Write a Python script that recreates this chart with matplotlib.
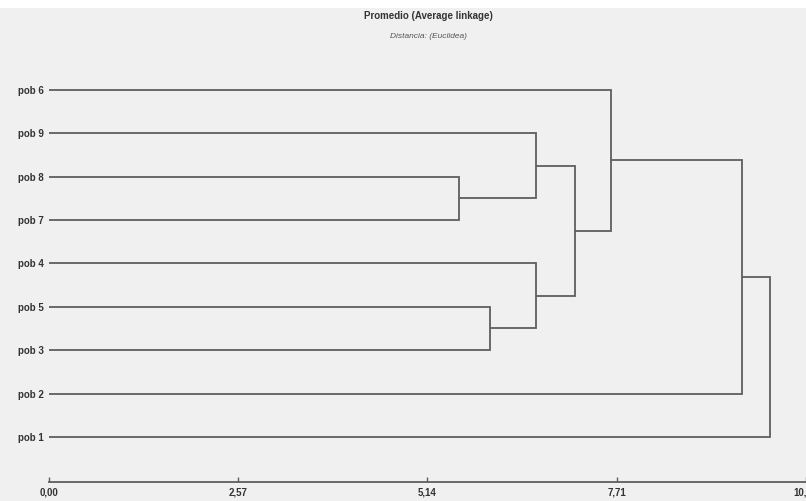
import matplotlib
matplotlib.use("Agg")
import matplotlib.pyplot as plt
from matplotlib.patches import Rectangle

# ---- data ----
leaf_order = ["pob 1", "pob 2", "pob 3", "pob 5", "pob 4", "pob 7", "pob 8", "pob 9", "pob 6"]  # bottom -> top
merge_left = ["pob 8", "pob 5", "pob 9", "pob 4", "c2", "pob 6", "c5", "c6"]
merge_right = ["pob 7", "pob 3", "c0", "c1", "c3", "c4", "pob 2", "pob 1"]
merge_height = [5.57, 5.99, 6.62, 6.62, 7.14, 7.63, 9.41, 9.79]
tick_values = [0.00, 2.57, 5.14, 7.71, 10.28]
tick_labels = ["0,00", "2,57", "5,14", "7,71", "10,28"]
title = "Promedio (Average linkage)"
subtitle = "Distancia: (Euclidea)"

fam = ["Liberation Sans Narrow", "Liberation Sans", "DejaVu Sans"]
line_col = "#5e5e5e"
text_col = "#333333"

fig = plt.figure(figsize=(8.06, 5.01), dpi=100)
fig.patch.set_facecolor("white")
fig.patches.append(Rectangle((0, 0), 1, 1 - 8 / 501, transform=fig.transFigure,
                             facecolor="#f0f0f0", edgecolor="none", zorder=-10))

ax = fig.add_axes([49 / 806, (501 - 482) / 501, 757 / 806, (482 - 70) / 501])
ax.set_facecolor("none")

pos = {name: (float(i), 0.0) for i, name in enumerate(leaf_order)}
for k, (a, b, h) in enumerate(zip(merge_left, merge_right, merge_height)):
    ya, xa = pos[a]
    yb, xb = pos[b]
    ax.plot([xa, h, h, xb], [ya, ya, yb, yb], color=line_col, lw=1.3,
            solid_joinstyle="miter", solid_capstyle="butt")
    pos["c%d" % k] = ((ya + yb) / 2.0, h)

ax.set_xlim(0, 10.28)
ax.set_ylim(-1.04, 8.46)
ax.set_yticks(range(len(leaf_order)))
ax.set_yticklabels(leaf_order, family=fam, fontsize=7, fontweight="bold", color=text_col)
ax.tick_params(axis="y", length=0, pad=4)
ax.set_xticks(tick_values)
ax.set_xticklabels(tick_labels, family=fam, fontsize=7, fontweight="bold", color=text_col)
ax.tick_params(axis="x", direction="in", length=3.5, width=1, color=line_col, pad=4)

for s in ["top", "right", "left"]:
    ax.spines[s].set_visible(False)
ax.spines["bottom"].set_color(line_col)
ax.spines["bottom"].set_linewidth(1.3)

fig.text(428 / 806, 1 - 16 / 501, title, ha="center", va="center", family=fam,
         fontsize=7, fontweight="bold", color=text_col)
fig.text(428 / 806, 1 - 37 / 501, subtitle, ha="center", va="center", family=fam,
         fontsize=6, style="italic", color="#555555")

fig.savefig("out.png", dpi=100)
